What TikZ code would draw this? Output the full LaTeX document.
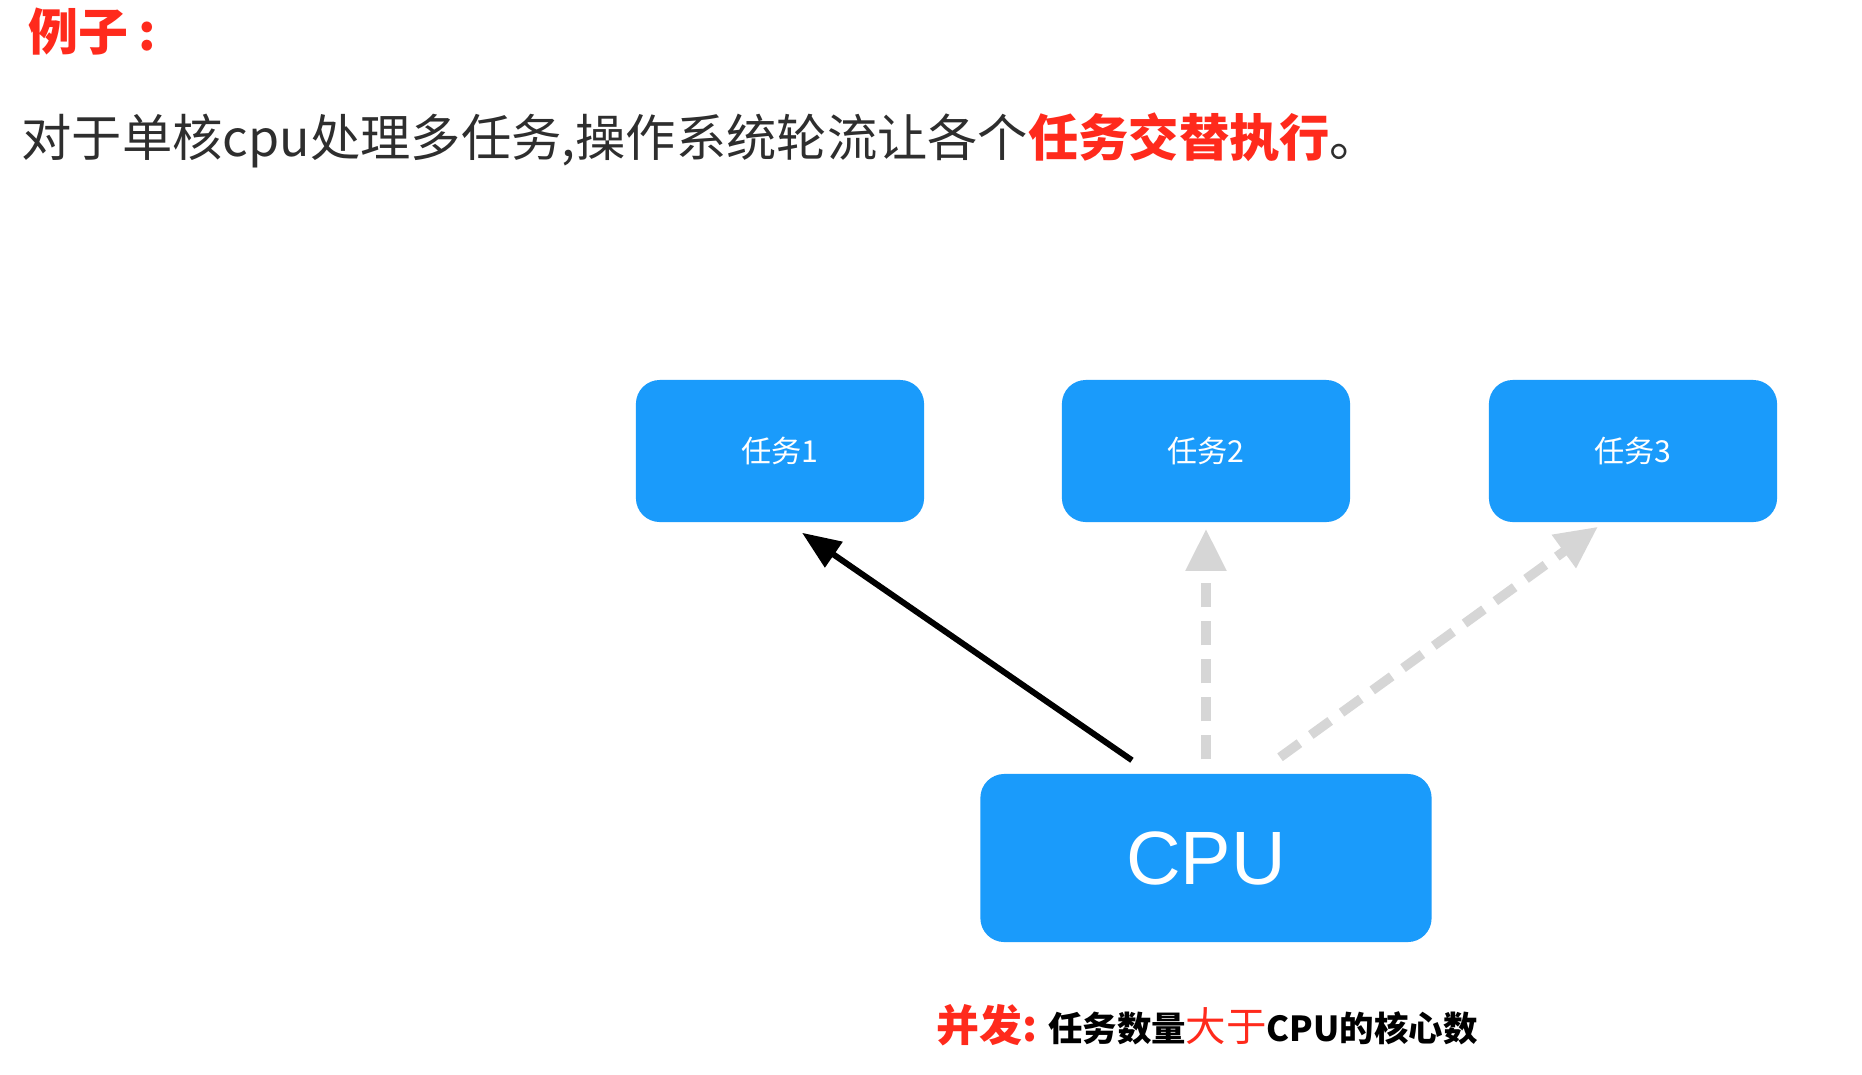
\documentclass[tikz,border=0pt]{standalone}
\usepackage{fontspec}
\setmainfont{Noto Sans CJK SC}
\newfontfamily\cpufont{Liberation Sans}
\usetikzlibrary{arrows.meta, positioning, calc}
\definecolor{taskblue}{HTML}{1A9BFB}
\definecolor{hlred}{HTML}{FF2A1C}
\definecolor{waitgray}{HTML}{D6D6D6}
\definecolor{textgray}{HTML}{2E2E2E}

\begin{document}
\begin{tikzpicture}[
  x=0.01cm, y=-0.01cm,
  task/.style={fill=taskblue, rounded corners=6.8pt, minimum width=2.88cm,
               minimum height=1.42cm, text=white, font=\fontsize{8.6}{10}\selectfont},
  cpubox/.style={fill=taskblue, rounded corners=6.8pt, minimum width=4.51cm,
                 minimum height=1.68cm, text=white, font=\cpufont\fontsize{21.5}{24}\selectfont},
  runarrow/.style={line width=1.7pt, -{Triangle[length=11pt,width=8.5pt]}},
  waitarrow/.style={waitgray, line width=2.7pt, dash pattern=on 6.8pt off 4pt,
                    -{Triangle[length=12pt,width=11pt]}}
]
\useasboundingbox[fill=white] (0,0) rectangle (1862,1075);

% Heading
\node[anchor=west, inner sep=0, text=hlred, font=\bfseries\fontsize{14.2}{16}\selectfont]
  (title) at (28,32) {例子\hspace{0.2em}:};
\node[anchor=west, inner sep=0, text=textgray, font=\fontsize{14.3}{16}\selectfont]
  (intro) at (21,140) {对于单核cpu处理多任务,操作系统轮流让各个\textcolor{hlred}{\bfseries 任务交替执行}。};

% Tasks
\node[task] (t1) at (780,451) {任务1};
\node[task] (t2) at (1206,451) {任务2};
\node[task] (t3) at (1633,451) {任务3};

% CPU
\node[cpubox] (cpu) at (1206,858) {CPU};

% Switching
\draw[runarrow] ([xshift=-0.74cm,yshift=0.13cm]cpu.north) -- ([xshift=0.22cm,yshift=-0.1cm]t1.south);
\draw[waitarrow] ([yshift=0.14cm]cpu.north) -- ([yshift=-0.06cm]t2.south);
\draw[waitarrow] ([xshift=0.74cm,yshift=0.16cm]cpu.north) -- ([xshift=-0.35cm,yshift=-0.04cm]t3.south);

% Note
\node[anchor=west, inner sep=0] (note) at (936,1025)
  {{\bfseries\fontsize{12.2}{14}\selectfont\color{hlred}并发:} {\bfseries\fontsize{9.8}{12}\selectfont 任务数量}{\fontsize{11.5}{12}\selectfont\color{hlred}大于}{\bfseries\fontsize{9.8}{12}\selectfont CPU的核心数}};
\end{tikzpicture}
\end{document}
